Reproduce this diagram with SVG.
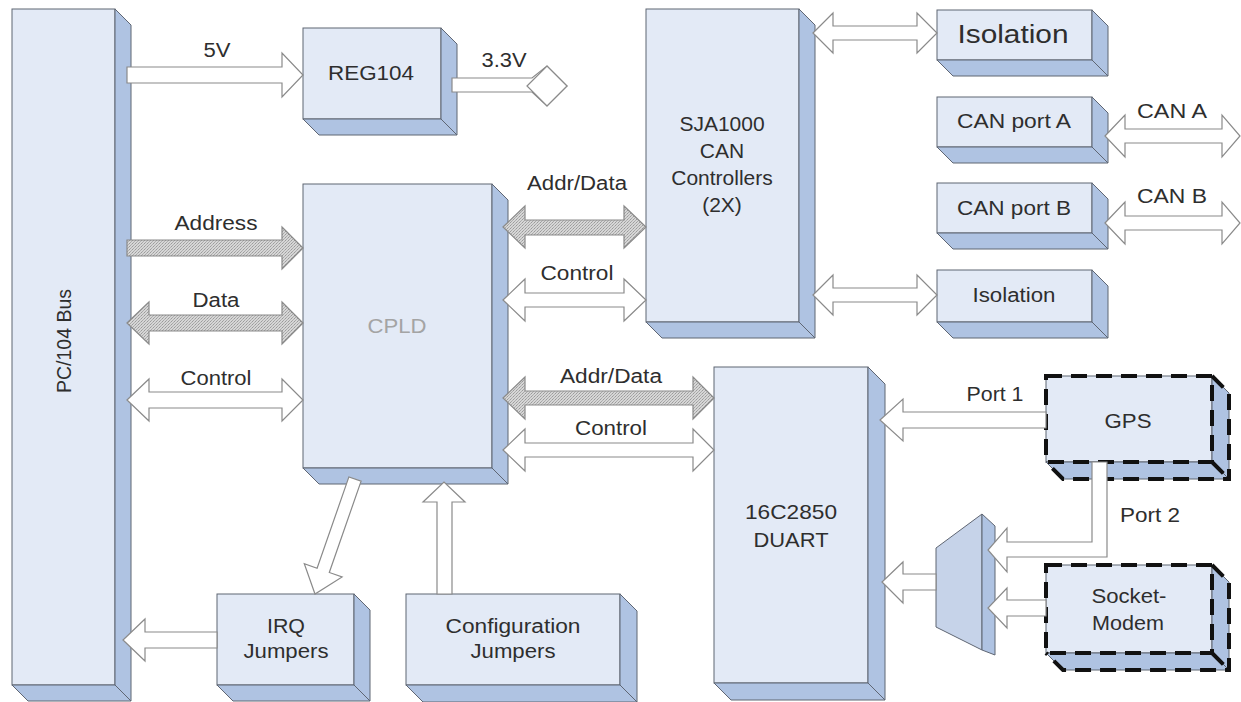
<svg xmlns="http://www.w3.org/2000/svg" width="1241" height="702" viewBox="0 0 1241 702">
<defs>
<pattern id="hatch" width="3" height="3" patternUnits="userSpaceOnUse">
<rect width="3" height="3" fill="#d6d6d6"/>
<rect x="0" y="0" width="1" height="1" fill="#9a9a9a"/>
<rect x="2" y="1" width="1" height="1" fill="#b0b0b0"/>
<rect x="1" y="2" width="1" height="1" fill="#a8a8a8"/>
</pattern>
<style>
.front{fill:#e3eaf6;stroke:#5f6673;stroke-width:1}
.side{fill:#afc3e2;stroke:#5f6673;stroke-width:1}
.dash{fill:none;stroke:#111;stroke-width:4;stroke-dasharray:16 9}
.lbl{font-family:"Liberation Sans",Arial,sans-serif;font-size:20px;fill:#2e2e2e;text-anchor:middle}
.big{font-size:25px}
.mid{font-size:21px}
.arr{fill:#fff;stroke:#8a8a8a;stroke-width:1.2;stroke-linejoin:miter}
.hat{fill:url(#hatch);stroke:#8a8a8a;stroke-width:1.2}
</style>
</defs>
<rect width="1241" height="702" fill="#fff"/>

<g id="pc104">
<rect class="front" x="12" y="9" width="103" height="676"/>
<polygon class="side" points="115,9 131,25 131,701 115,685"/>
<polygon class="side" points="12,685 115,685 131,701 28,701"/>
<text class="lbl mid" transform="translate(71,341) rotate(-90)" textLength="104" lengthAdjust="spacingAndGlyphs">PC/104 Bus</text>
</g>

<g id="reg104">
<rect class="front" x="303" y="28" width="138" height="91"/>
<polygon class="side" points="441,28 457,44 457,135 441,119"/>
<polygon class="side" points="303,119 441,119 457,135 319,135"/>
<text class="lbl mid" x="371" y="80" textLength="86" lengthAdjust="spacingAndGlyphs">REG104</text>
</g>

<g id="cpld">
<rect class="front" x="303" y="184" width="189" height="284"/>
<polygon class="side" points="492,184 508,200 508,484 492,468"/>
<polygon class="side" points="303,468 492,468 508,484 319,484"/>
<text class="lbl mid" x="397" y="333" style="fill:#a4a4a4" textLength="59" lengthAdjust="spacingAndGlyphs">CPLD</text>
</g>

<g id="sja1000">
<rect class="front" x="646" y="9" width="153" height="313"/>
<polygon class="side" points="799,9 815,25 815,338 799,322"/>
<polygon class="side" points="646,322 799,322 815,338 662,338"/>
<text class="lbl mid" x="722" y="131">SJA1000</text>
<text class="lbl mid" x="722" y="158">CAN</text>
<text class="lbl mid" x="722" y="185">Controllers</text>
<text class="lbl mid" x="722" y="212">(2X)</text>
</g>

<g id="iso1">
<rect class="front" x="937" y="10" width="155" height="50"/>
<polygon class="side" points="1092,10 1108,26 1108,76 1092,60"/>
<polygon class="side" points="937,60 1092,60 1108,76 953,76"/>
<text class="lbl big" x="1013" y="43" textLength="111" lengthAdjust="spacingAndGlyphs">Isolation</text>
</g>

<g id="canA">
<rect class="front" x="937" y="97" width="155" height="50"/>
<polygon class="side" points="1092,97 1108,113 1108,163 1092,147"/>
<polygon class="side" points="937,147 1092,147 1108,163 953,163"/>
<text class="lbl mid" x="1014" y="128" textLength="114" lengthAdjust="spacingAndGlyphs">CAN port A</text>
</g>

<g id="canB">
<rect class="front" x="937" y="183" width="155" height="50"/>
<polygon class="side" points="1092,183 1108,199 1108,249 1092,233"/>
<polygon class="side" points="937,233 1092,233 1108,249 953,249"/>
<text class="lbl mid" x="1014" y="215" textLength="114" lengthAdjust="spacingAndGlyphs">CAN port B</text>
</g>

<g id="iso2">
<rect class="front" x="937" y="270" width="155" height="52"/>
<polygon class="side" points="1092,270 1108,286 1108,338 1092,322"/>
<polygon class="side" points="937,322 1092,322 1108,338 953,338"/>
<text class="lbl" x="1014" y="302" textLength="83" lengthAdjust="spacingAndGlyphs">Isolation</text>
</g>

<g id="duart">
<rect class="front" x="714" y="367" width="154" height="316"/>
<polygon class="side" points="868,367 885,384 885,700 868,683"/>
<polygon class="side" points="714,683 868,683 885,700 731,700"/>
<text class="lbl mid" x="791" y="519" textLength="92" lengthAdjust="spacingAndGlyphs">16C2850</text>
<text class="lbl mid" x="791" y="547" textLength="75" lengthAdjust="spacingAndGlyphs">DUART</text>
</g>

<g id="gps">
<rect class="front" x="1046" y="376" width="166" height="86"/>
<polygon class="side" points="1212,376 1229,393 1229,479 1212,462"/>
<polygon class="side" points="1046,462 1212,462 1229,479 1063,479"/>
<path class="dash" d="M1046,376 H1212 V462 H1046 Z M1212,376 L1229,393 V479 H1063 L1046,462 M1212,462 L1229,479"/>
<text class="lbl" x="1128" y="428" textLength="47" lengthAdjust="spacingAndGlyphs">GPS</text>
</g>

<g id="modem">
<rect class="front" x="1046" y="565" width="166" height="88"/>
<polygon class="side" points="1212,565 1229,582 1229,670 1212,653"/>
<polygon class="side" points="1046,653 1212,653 1229,670 1063,670"/>
<path class="dash" d="M1046,565 H1212 V653 H1046 Z M1212,565 L1229,582 V670 H1063 L1046,653 M1212,653 L1229,670"/>
<text class="lbl" x="1129" y="603" textLength="75" lengthAdjust="spacingAndGlyphs">Socket-</text>
<text class="lbl" x="1128" y="630" textLength="72" lengthAdjust="spacingAndGlyphs">Modem</text>
</g>

<g id="mux">
<polygon points="936,548 982,514 982,650 936,627" fill="#c6d3e9" stroke="#5f6673" stroke-width="1"/>
<polygon class="side" points="982,514 995,526 995,655 982,650"/>
</g>

<g id="irq">
<rect class="front" x="217" y="594" width="137" height="91"/>
<polygon class="side" points="354,594 370,610 370,701 354,685"/>
<polygon class="side" points="217,685 354,685 370,701 233,701"/>
<text class="lbl" x="286" y="633" textLength="38" lengthAdjust="spacingAndGlyphs">IRQ</text>
<text class="lbl" x="286" y="658" textLength="85" lengthAdjust="spacingAndGlyphs">Jumpers</text>
</g>

<g id="config">
<rect class="front" x="406" y="594" width="214" height="91"/>
<polygon class="side" points="620,594 637,611 637,702 620,685"/>
<polygon class="side" points="406,685 620,685 637,702 423,702"/>
<text class="lbl" x="513" y="633" textLength="135" lengthAdjust="spacingAndGlyphs">Configuration</text>
<text class="lbl" x="513" y="658" textLength="85" lengthAdjust="spacingAndGlyphs">Jumpers</text>
</g>

<g id="connectors">
<polygon class="arr" points="127,67 282,67 282,53 303,75 282,97 282,83 127,83"/>
<text class="lbl" x="217" y="57" textLength="27" lengthAdjust="spacingAndGlyphs">5V</text>
<polygon class="arr" points="452,78 532,78 547,66 567,86 547,106 532,92 452,92"/>
<polygon class="arr" points="527,86 547,66 567,86 547,106"/>
<text class="lbl" x="504" y="67" textLength="45" lengthAdjust="spacingAndGlyphs">3.3V</text>
<polygon class="hat" points="127,240 282,240 282,227 303,248 282,269 282,256 127,256"/>
<text class="lbl" x="216" y="230" textLength="83" lengthAdjust="spacingAndGlyphs">Address</text>
<polygon class="hat" points="127,323 149,302 149,315 282,315 282,302 303,323 282,344 282,331 149,331 149,344"/>
<text class="lbl" x="216" y="307" textLength="47" lengthAdjust="spacingAndGlyphs">Data</text>
<polygon class="arr" points="127,400 149,379 149,392 282,392 282,379 303,400 282,421 282,408 149,408 149,421"/>
<text class="lbl" x="216" y="385" textLength="71" lengthAdjust="spacingAndGlyphs">Control</text>
<polygon class="hat" points="503,227 525,206 525,220 624,220 624,206 646,227 624,248 624,235 525,235 525,248"/>
<text class="lbl" x="577" y="190" textLength="100" lengthAdjust="spacingAndGlyphs">Addr/Data</text>
<polygon class="arr" points="503,300 525,279 525,293 624,293 624,279 646,300 624,321 624,307 525,307 525,321"/>
<text class="lbl" x="577" y="280" textLength="73" lengthAdjust="spacingAndGlyphs">Control</text>
<polygon class="hat" points="503,398 525,377 525,391 693,391 693,377 714,398 693,419 693,405 525,405 525,419"/>
<text class="lbl" x="611" y="383" textLength="102" lengthAdjust="spacingAndGlyphs">Addr/Data</text>
<polygon class="arr" points="503,450 525,429 525,443 693,443 693,429 714,450 693,471 693,457 525,457 525,471"/>
<text class="lbl" x="611" y="435" textLength="72" lengthAdjust="spacingAndGlyphs">Control</text>
<polygon class="arr" points="813,33 833,13 833,26 917,26 917,13 937,33 917,53 917,40 833,40 833,53"/>
<polygon class="arr" points="813,295 833,275 833,288 917,288 917,275 937,295 917,315 917,302 833,302 833,315"/>
<polygon class="arr" points="1105,136 1125,115 1125,129 1222,129 1222,115 1240,136 1222,157 1222,143 1125,143 1125,157"/>
<text class="lbl" x="1172" y="118" textLength="70" lengthAdjust="spacingAndGlyphs">CAN A</text>
<polygon class="arr" points="1105,223 1125,202 1125,216 1222,216 1222,202 1240,223 1222,244 1222,230 1125,230 1125,244"/>
<text class="lbl" x="1172" y="203" textLength="70" lengthAdjust="spacingAndGlyphs">CAN B</text>
<polygon class="arr" points="1046,412 903,412 903,399 880,420 903,441 903,428 1046,428"/>
<text class="lbl" x="995" y="401" textLength="57" lengthAdjust="spacingAndGlyphs">Port 1</text>
<polygon class="arr" points="1092,462 1092,542 1007,542 1007,528 988,550 1007,572 1007,557 1107,557 1107,462"/>
<text class="lbl" x="1150" y="522" textLength="60" lengthAdjust="spacingAndGlyphs">Port 2</text>
<polygon class="arr" points="1046,600 1007,600 1007,588 988,608 1007,628 1007,616 1046,616"/>
<polygon class="arr" points="936,574 903,574 903,562 882,582 903,603 903,590 936,590"/>
<polygon class="arr" points="217,632 145,632 145,619 123,640 145,661 145,648 217,648"/>
<polygon class="arr" points="348.9,476.9 317.1,568.3 304.3,563.8 315,594 342.1,577 329.3,572.5 361.1,481.1"/>
<polygon class="arr" points="437,594 437,502 423,502 444,482 465,502 452,502 452,594"/>
</g>
</svg>
